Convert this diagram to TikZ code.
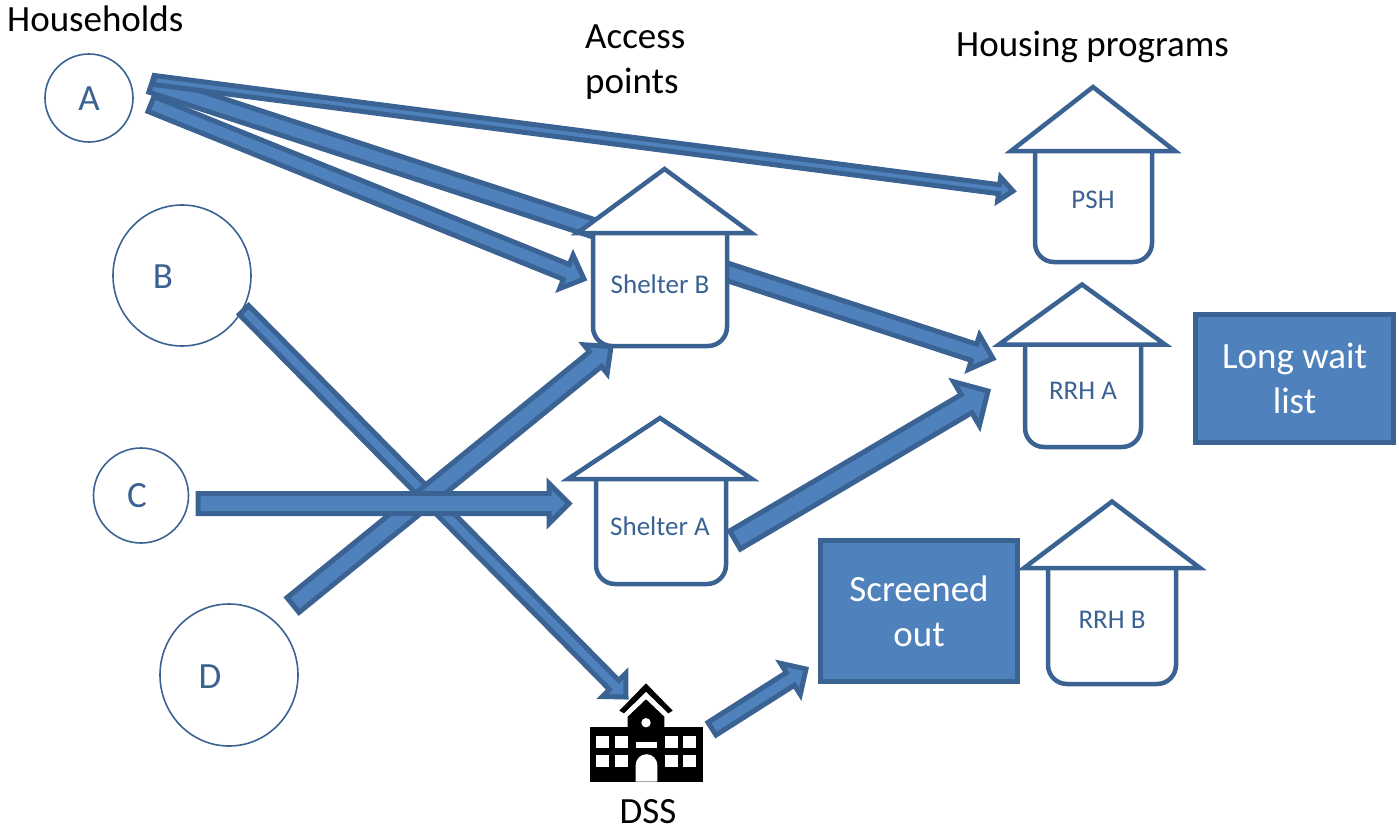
\documentclass[tikz,border=0pt]{standalone}
\usepackage{fontspec}
\setmainfont{Carlito}
\usetikzlibrary{
	positioning,
	calc,
	shapes.geometric
}
\definecolor{mc}{HTML}{3A6292}
\definecolor{fc}{HTML}{4F81BD}
\tikzset{
	every picture/.style={
		x=1pt,
		y=-1pt,
	},
	blockarrow/.style n args={3}{
		draw=mc,
		fill=fc,
		line width=5pt,
		to path={
			($(\tikztostart)!#1pt!90:(\tikztotarget)$)
			-- ($(\tikztotarget)!#3pt!(\tikztostart)!#1pt!90:(\tikztotarget)$)
			-- ($(\tikztotarget)!#3pt!(\tikztostart)!#2pt!90:(\tikztotarget)$)
			-- (\tikztotarget)
			-- ($(\tikztotarget)!#3pt!(\tikztostart)!#2pt!-90:(\tikztotarget)$)
			-- ($(\tikztotarget)!#3pt!(\tikztostart)!#1pt!-90:(\tikztotarget)$)
			-- ($(\tikztostart)!#1pt!-90:(\tikztotarget)$)
			-- cycle
		},
	},
}
\tikzstyle{head} = [
	inner sep=0mm,
	text=black,
	font=\fontsize{37}{45}\selectfont
]
\tikzstyle{household} = [
	draw=mc,
	line width=1.6pt,
	ellipse,
	inner sep=0mm
]
\tikzstyle{hlabel} = [
	inner sep=0mm,
	text=mc,
	font=\fontsize{37}{44}\selectfont
]
\tikzstyle{house} = [
	draw=mc,
	fill=white,
	line width=4.5pt
]
\tikzstyle{hname} = [
	inner sep=0mm,
	text=mc,
	font=\fontsize{27}{32}\selectfont
]
\tikzstyle{note} = [
	draw=mc,
	fill=fc,
	line width=5pt,
	inner sep=0mm,
	align=center,
	text=white,
	font=\fontsize{37}{45}\selectfont
]

\begin{document}
\begin{tikzpicture}
	\useasboundingbox (0,0) rectangle (1399,830);

	\node[head, anchor=west] (households) at (7,19) {Households};
	\node[head, anchor=west, align=left] (access) at (585,62) {Access\\points};
	\node[head, anchor=west] (programs) at (956,47) {Housing programs};
	\node[head] (dss) at (648,812) {DSS};

	\foreach \n/\x/\y/\rx/\ry/\tx/\ty/\t in {a/89/98/44/44/89/99/A, b/182/275.5/69/70.5/163/277/B, c/141/495.5/47.5/47.5/137/496/C, d/229/675/69/71/210/677/D} {
		\node[household, minimum width=2*\rx, minimum height=2*\ry] (\n) at (\x,\y) {};
		\node[hlabel] (\n label) at (\tx,\ty) {\t};
	}

	\foreach \n/\x/\y in {a1/154/80, a2/151.5/84, a3/151/104, b1/244/310, c1/198/503.5, d1/293/605, s1/735/540, k1/712/728.7, psh1/1013/191, rrh1/993/358.5, rrh2/988/391, shb1/584/279, shb2/611/346.5, sha1/569/503.5, dss1/626/697, out1/806/669}
		\coordinate (\n) at (\x,\y);

	\foreach \f/\g/\w/\W/\l in {a2/rrh1/8.5/18/20, a1/psh1/4.5/12/14, a3/shb1/8/18/19, b1/dss1/6.5/16.5/17, d1/shb2/9.5/18.5/20, c1/sha1/10/20/20, s1/rrh2/10.5/25.5/25, k1/out1/7.5/18.5/18.5}
		\draw[blockarrow={\w}{\W}{\l}] (\f) to (\g);

	\foreach \n/\t/\x/\ty/\rx/\ry/\a/\hw/\l/\r/\b in {
		psh/PSH/1093/200/1093/151/87/82/1035/1152/262,
		shelterb/Shelter B/660/284/664.5/233/169/87/593/727/346,
		rrha/RRH A/1083/391/1082/344.5/284.5/83/1025/1141/447,
		sheltera/Shelter A/660/526/660/479/418/92/596/726/584,
		rrhb/RRH B/1112/620/1112/568/501.5/88/1048/1176/684} {
		\filldraw[house] (\l,\ry) [rounded corners=19pt] -- (\l,\b) -- (\r,\b) -- (\r,\ry);
		\filldraw[house] (\rx-\hw,\ry) -- (\rx,\a) -- (\rx+\hw,\ry) -- cycle;
		\node[hname] (\n) at (\x,\ty) {\t};
	}

	\node[note, minimum width=197pt, minimum height=141pt] (screened) at (919,611) {Screened\\out};
	\node[note, minimum width=198pt, minimum height=128pt] (waitlist) at (1294.5,378) {Long wait\\list};

	\fill (619.3,710.7) -- (646,683.3) -- (672.7,710.7) -- (668.3,713.3) -- (646,691.7) -- (624,713.3) -- cycle;
	\fill (627.7,728) -- (627.7,716.7) -- (646,699.3) -- (664.3,716.7) -- (664.3,728) -- cycle;
	\fill (590,727.3) rectangle (702.7,781.7);
	\fill[white] (646,722.7) circle (4.7pt);
	\foreach \x in {596, 615, 665, 683.3}
		\foreach \y in {735.7, 755}
			\fill[white] (\x,\y) rectangle (\x+12.7,\y+12.3);
	\fill[white] (635.7,741.7) rectangle (657.3,748);
	\fill[white] (635.7,781.7) -- (635.7,765) arc (180:0:10.8pt) -- (657.3,781.7) -- cycle;
\end{tikzpicture}
\end{document}
